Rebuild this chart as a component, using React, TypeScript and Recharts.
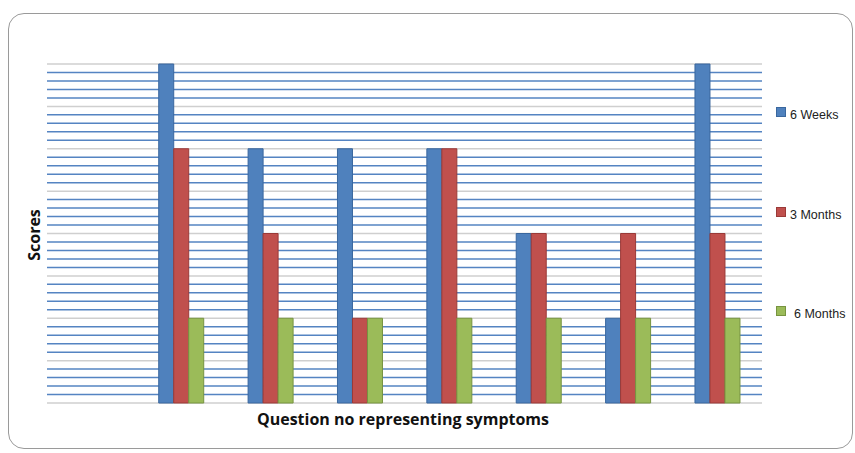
import React from "react";
import { BarChart, Bar, XAxis, YAxis, CartesianGrid } from "recharts";

const categories = ["", "Q1", "Q2", "Q3", "Q4", "Q5", "Q6", "Q7"];
const sixWeeks = [null, 4, 3, 3, 3, 2, 1, 4];
const threeMonths = [null, 3, 2, 1, 3, 2, 2, 2];
const sixMonths = [null, 1, 1, 1, 1, 1, 1, 1];
const seriesNames = ["6 Weeks", "3 Months", "6 Months"];
const seriesKeys = ["w6", "m3", "m6"];
const seriesFill = ["#4f81bd", "#c0504d", "#9bbb59"];
const seriesStroke = ["#3a679e", "#9a3a38", "#779440"];
const yTicks = Array.from({ length: 41 }, (_, i) => i / 10);

const data = categories.map((c, i) => ({
  name: c,
  w6: sixWeeks[i],
  m3: threeMonths[i],
  m6: sixMonths[i],
}));

const gridLine = (props: any) => {
  const major = props.index % 5 === 0;
  return (
    <line
      key={props.key}
      x1={props.x1}
      x2={props.x2}
      y1={props.y1}
      y2={props.y2}
      stroke={major ? "#cfcfcf" : "#5584c2"}
      strokeWidth={1.5}
    />
  );
};

const legendTops = [107, 207, 306];
const legendTextLeft = [790, 790, 794];

export default function App() {
  return (
    <div style={{ position: "relative", width: 855, height: 453, background: "#fff", fontFamily: "'Liberation Sans', Arial, sans-serif" }}>
      <style>{"body{margin:0}"}</style>
      <div
        style={{
          position: "absolute",
          left: 8,
          top: 13,
          width: 845,
          height: 436,
          border: "1.5px solid #9a9a9a",
          borderRadius: 16,
          boxSizing: "border-box",
        }}
      />
      <div style={{ position: "absolute", left: 0, top: 0 }}>
        <BarChart
          width={855}
          height={453}
          data={data}
          margin={{ top: 64, left: 47, right: 93, bottom: 50 }}
          barCategoryGap="25%"
          barGap={0}
        >
          <CartesianGrid vertical={false} horizontal={gridLine} />
          <XAxis dataKey="name" hide />
          <YAxis hide domain={[0, 4]} ticks={yTicks} interval={0} minTickGap={0} />
          {seriesKeys.map((k, i) => (
            <Bar
              key={k}
              dataKey={k}
              name={seriesNames[i]}
              fill={seriesFill[i]}
              stroke={seriesStroke[i]}
              strokeWidth={1}
              isAnimationActive={false}
            />
          ))}
        </BarChart>
      </div>
      <div
        style={{
          position: "absolute",
          left: 34,
          top: 235,
          transform: "translate(-50%, -50%) rotate(-90deg)",
          fontWeight: "bold",
          fontSize: 16,
          fontFamily: "'Open Sans', sans-serif",
          color: "#111",
          whiteSpace: "nowrap",
        }}
      >
        Scores
      </div>
      <div
        style={{
          position: "absolute",
          left: 403,
          top: 419,
          transform: "translate(-50%, -50%)",
          fontWeight: "bold",
          fontSize: 16,
          fontFamily: "'Open Sans', sans-serif",
          color: "#111",
          whiteSpace: "nowrap",
        }}
      >
        Question no representing symptoms
      </div>
      {seriesNames.map((n, i) => (
        <React.Fragment key={n}>
          <div
            style={{
              position: "absolute",
              left: 776,
              top: legendTops[i],
              width: 10,
              height: 10,
              background: seriesFill[i],
              border: `1px solid ${seriesStroke[i]}`,
              boxSizing: "border-box",
            }}
          />
          <div
            style={{
              position: "absolute",
              left: legendTextLeft[i],
              top: legendTops[i],
              fontSize: 12.5,
              lineHeight: "16px",
              color: "#222",
              whiteSpace: "nowrap",
            }}
          >
            {n}
          </div>
        </React.Fragment>
      ))}
    </div>
  );
}
